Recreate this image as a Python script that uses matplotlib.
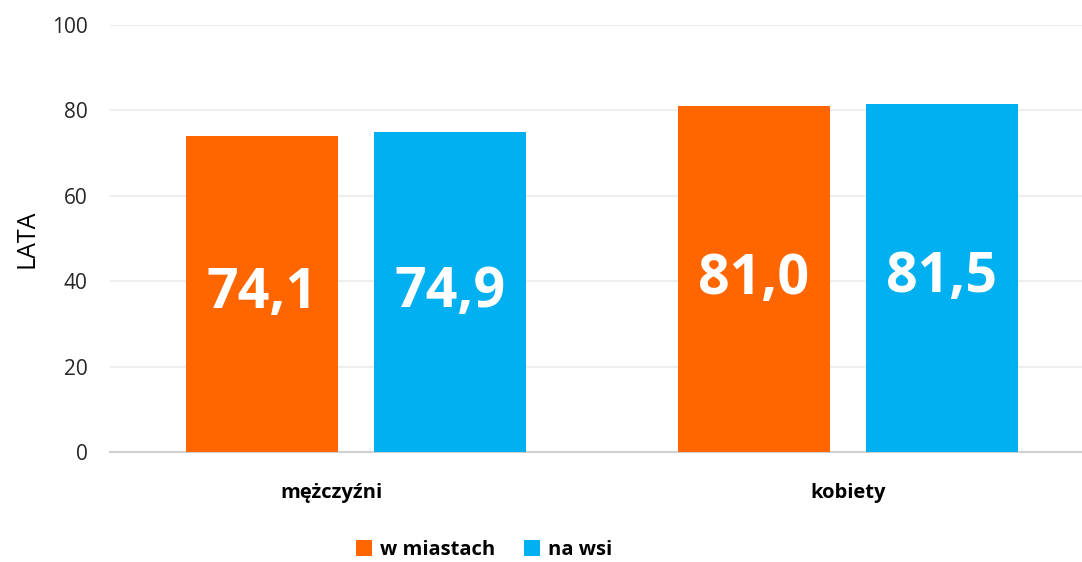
import numpy as np
import matplotlib
matplotlib.use('Agg')
import matplotlib.pyplot as plt
from matplotlib.transforms import ScaledTranslation

plt.rcParams['font.family'] = ['Open Sans', 'DejaVu Sans']

categories = ['mężczyźni', 'kobiety']
series_names = ['w miastach', 'na wsi']
city = [74.1, 81.0]
village = [74.9, 81.5]
y_ticks = [0, 20, 40, 60, 80, 100]

colors = ['#FF6600', '#00B0F0']

fig = plt.figure(figsize=(10.82, 5.62), dpi=100)
ax = fig.add_axes([110 / 1082, 1 - 452 / 562, 1 - 110 / 1082, (452 - 25) / 562])

x = np.arange(len(categories))
w = 0.309
off = 0.191
bars1 = ax.bar(x - off, city, w, color=colors[0], label=series_names[0], zorder=3)
bars2 = ax.bar(x + off, village, w, color=colors[1], label=series_names[1], zorder=3)

for bars in (bars1, bars2):
    for b in bars:
        v = b.get_height()
        ax.text(b.get_x() + b.get_width() / 2, v / 2, f'{v:.1f}'.replace('.', ','),
                ha='center', va='center', color='white', fontsize=40,
                fontweight='bold', zorder=4)

ax.set_xlim(-0.5, 1.476)
ax.set_ylim(0, 100)
ax.set_yticks(y_ticks)
ax.set_xticks(x)
ax.set_xticklabels(categories, fontsize=14.5, fontweight='bold')
ax.tick_params(axis='x', length=0, pad=22)
ax.tick_params(axis='y', length=0, pad=16, labelsize=15, labelcolor='#262626')
# first category label sits a bit left of its group in the original
lbl = ax.get_xticklabels()[0]
lbl.set_transform(lbl.get_transform() + ScaledTranslation(-0.25, 0, fig.dpi_scale_trans))
ax.grid(axis='y', color='#ebebeb', linewidth=1.2, zorder=0)
for s in ('top', 'right', 'left'):
    ax.spines[s].set_visible(False)
ax.spines['bottom'].set_color('#d0d0d0')
ax.spines['bottom'].set_linewidth(1.5)
ax.set_ylabel('LATA', fontsize=18, labelpad=9)

fig.legend(loc='center', bbox_to_anchor=(484 / 1082, 1 - 550 / 562), ncol=2,
           frameon=False, prop={'size': 14.5, 'weight': 'bold'},
           handlelength=0.8, handleheight=0.8, handletextpad=0.4, columnspacing=1.4)

fig.savefig('out.png', dpi=100)
